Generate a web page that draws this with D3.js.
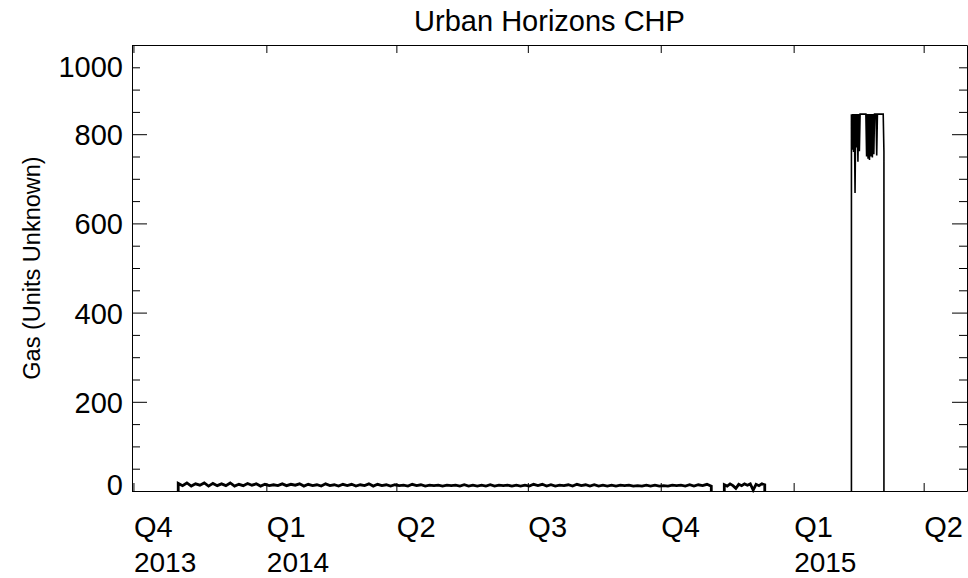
<!DOCTYPE html>
<html><head><meta charset="utf-8">
<script src="https://cdn.jsdelivr.net/npm/d3@7"></script>
<style>
body{margin:0;background:#fff;}
svg{display:block;}
text{font-family:"Liberation Sans",Arial,Helvetica,sans-serif;fill:#000;}
</style>
</head><body>
<svg id="chart" width="968" height="578"></svg>
<script>
// ---------- data ----------
const chartTitle = "Urban Horizons CHP";
const yAxisLabel = "Gas (Units Unknown)";
const yTickValues = [0, 200, 400, 600, 800, 1000];
const yMinorTickValues = [50,100,150,250,300,350,450,500,550,650,700,750,850,900,950];
const xDomainDates = ["2013-09-30", "2015-05-01"];
const xTickDates = ["2013-10-01","2014-01-01","2014-04-01","2014-07-01","2014-10-01","2015-01-01","2015-04-01"];
const xTickQuarters = ["Q4","Q1","Q2","Q3","Q4","Q1","Q2"];
const xTickYears = ["2013","2014","","","","2015",""];

// segment A: low steady consumption, one reading every 3 days
const segAStart = "2013-11-01T00:00:00Z";
const segAStepHours = 72;
const segAValues = [
 17,12,18,11,16,13,18,11,17,12,
 16,12,18,11,15,12,17,13,16,11,
 15,12,14,12,16,12,15,13,16,11,
 15,12,14,11,16,12,14,11,15,12,
 15,11,14,12,16,11,15,12,14,11,
 14,12,13,11,15,12,14,11,13,12,
 13,11,13,12,13,11,14,11,13,11,
 13,11,14,11,13,12,13,11,13,11,
 13,11,15,12,15,11,14,11,13,12,
 14,11,15,12,14,11,14,11,13,11,
 13,11,13,12,13,11,12,11,13,11,
 13,11,12,11,13,12,13,11,14,11,
 14,12,15,11];

// segment B: short block in late 2014, one reading every 2 days
const segBStart = "2014-11-14T00:00:00Z";
const segBStepHours = 48;
const segBValues = [14, 11, 16, 12, 6, 15, 12, 16, 13, 16, 2, 15, 12, 16, 14];

// segment C: high-output block in Feb-Mar 2015, one reading every 12 hours
const segCStart = "2015-02-10T00:00:00Z";
const segCStepHours = 12;
const segCValues = [
 845,765,845,760,845,668,845,770,845,738,845,762,845,
 845,845,845,845,845,845,845,845,
 750,845,745,845,742,845,750,845,748,845,755,845,
 845,845,752,845,845,845,845,845,845,845,845,845,
 760];

// ---------- layout ----------
const svg = d3.select("#chart");
const plot = {left: 132, right: 967, top: 45, bottom: 491};

const x = d3.scaleUtc()
  .domain(xDomainDates.map(d => new Date(d + "T00:00:00Z")))
  .range([plot.left, plot.right]);
const y = d3.scaleLinear().domain([0, 1000]).range([plot.bottom, plot.top]);

// each segment rises from and falls back to the zero baseline
function buildSeries(start, stepHours, values) {
  const t0 = new Date(start);
  const pts = values.map((v, i) => ({date: d3.utcHour.offset(t0, i * stepHours), value: v}));
  return [{date: pts[0].date, value: 0}, ...pts, {date: pts[pts.length - 1].date, value: 0}];
}
const lowSeries = [
  buildSeries(segAStart, segAStepHours, segAValues),
  buildSeries(segBStart, segBStepHours, segBValues)
];
const highSeries = buildSeries(segCStart, segCStepHours, segCValues);

const line = d3.line().x(d => x(d.date)).y(d => y(d.value));

svg.append("g").selectAll("path").data(lowSeries).join("path")
  .attr("d", line)
  .attr("fill", "none")
  .attr("stroke", "#000")
  .attr("stroke-width", 2.8)
  .attr("stroke-linejoin", "miter");

svg.append("path").datum(highSeries)
  .attr("d", line)
  .attr("fill", "none")
  .attr("stroke", "#000")
  .attr("stroke-width", 1.6);

// ---------- axes ----------
const tickDates = xTickDates.map(d => new Date(d + "T00:00:00Z"));
function styleAxis(g) {
  g.selectAll(".domain").attr("stroke", "#000").attr("stroke-width", 1);
  g.selectAll(".tick line").attr("stroke", "#000").attr("stroke-width", 1);
}
const FONT = '"Liberation Sans",Arial,sans-serif';

// left, major
const gLeft = svg.append("g").attr("transform", `translate(${plot.left},0)`)
  .call(d3.axisLeft(y).tickValues(yTickValues).tickSizeInner(-15).tickSizeOuter(0)
    .tickPadding(9).tickFormat(d3.format("d")))
  .call(styleAxis);
gLeft.selectAll(".tick text")
  .attr("font-size", 29)
  .attr("font-family", FONT)
  .attr("y", d => d === 1000 ? 21 : (d === 0 ? -7 : 0))
  .attr("dy", "0.36em");
// left, minor
svg.append("g").attr("transform", `translate(${plot.left},0)`)
  .call(d3.axisLeft(y).tickValues(yMinorTickValues).tickSizeInner(-8).tickSizeOuter(0).tickFormat(""))
  .call(styleAxis).call(g => g.select(".domain").remove());

// right
svg.append("g").attr("transform", `translate(${plot.right},0)`)
  .call(d3.axisRight(y).tickValues(yTickValues).tickSizeInner(-15).tickSizeOuter(0).tickFormat(""))
  .call(styleAxis);
svg.append("g").attr("transform", `translate(${plot.right},0)`)
  .call(d3.axisRight(y).tickValues(yMinorTickValues).tickSizeInner(-8).tickSizeOuter(0).tickFormat(""))
  .call(styleAxis).call(g => g.select(".domain").remove());

// bottom
const gBottom = svg.append("g").attr("transform", `translate(0,${plot.bottom})`)
  .call(d3.axisBottom(x).tickValues(tickDates).tickSizeInner(-8).tickSizeOuter(0)
    .tickFormat((d, i) => xTickQuarters[i]))
  .call(styleAxis);
gBottom.selectAll(".tick text")
  .attr("font-size", 29)
  .attr("font-family", FONT)
  .attr("text-anchor", "start")
  .attr("x", 0)
  .attr("y", 46)
  .attr("dy", 0);
gBottom.selectAll(".tick").append("text")
  .text((d, i) => xTickYears[i])
  .attr("font-size", 28)
  .attr("font-family", FONT)
  .attr("fill", "#000")
  .attr("text-anchor", "start")
  .attr("x", 0)
  .attr("y", 81);

// top
svg.append("g").attr("transform", `translate(0,${plot.top})`)
  .call(d3.axisTop(x).tickValues(tickDates).tickSizeInner(-8).tickSizeOuter(0).tickFormat(""))
  .call(styleAxis);

// ---------- titles ----------
svg.append("text")
  .attr("x", (plot.left + plot.right) / 2)
  .attr("y", 31)
  .attr("text-anchor", "middle")
  .attr("font-size", 29)
  .text(chartTitle);

svg.append("text")
  .attr("transform", `translate(40,${(plot.top + plot.bottom) / 2}) rotate(-90)`)
  .attr("text-anchor", "middle")
  .attr("font-size", 23.5)
  .text(yAxisLabel);
</script>
</body></html>
